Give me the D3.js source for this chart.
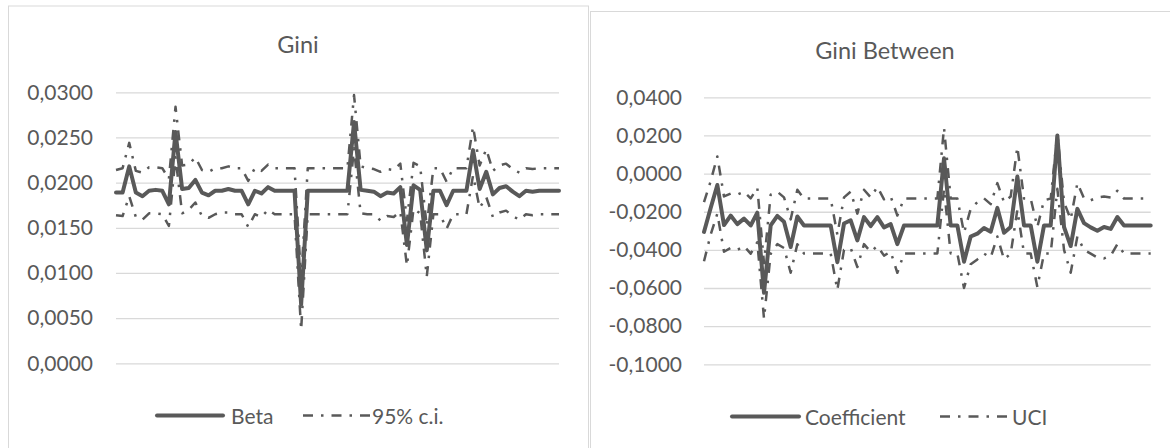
<!DOCTYPE html>
<html>
<head>
<meta charset="utf-8">
<script src="https://cdn.jsdelivr.net/npm/d3@7"></script>
<style>
  html, body { margin: 0; padding: 0; background: #ffffff; }
  svg { display: block; }
  text { font-family: Lato, "Open Sans", sans-serif; fill: #595959; }
</style>
</head>
<body>
<svg id="chart" width="1170" height="448"></svg>
<script>
// ---------------- DATA ----------------
const categories = [1,2,3,4,5,6,7,8,9,10,11,12,13,14,15,16,17,18,19,20,21,22,23,24,25,26,27,28,29,30,31,32,33,34,
  35,36,37,38,39,40,41,42,43,44,45,46,47,48,49,50,51,52,53,54,55,56,57,58,59,60,61,62,63,64,65,66,67,68];

// Left chart: "Gini"
const giniBeta = [0.0189,0.0189,0.0218,0.0189,0.0185,0.0191,0.0192,0.0191,0.0176,0.0256,
  0.0193,0.0194,0.0203,0.0189,0.0186,0.0191,0.0191,0.0193,0.0191,0.0191,
  0.0176,0.0191,0.0188,0.0195,0.0191,0.0191,0.0191,0.0191,0.0065,0.0191,
  0.0191,0.0191,0.0191,0.0191,0.0191,0.0191,0.0267,0.0192,0.0191,0.0190,
  0.0185,0.0189,0.0188,0.0195,0.0131,0.0197,0.0192,0.0125,0.0191,0.0191,
  0.0175,0.0191,0.0191,0.0191,0.0236,0.0193,0.0212,0.0187,0.0194,0.0196,
  0.0190,0.0185,0.0191,0.0190,0.0191,0.0191,0.0191,0.0191];
const giniUpper = [0.0214,0.0216,0.0244,0.0213,0.0211,0.0217,0.0217,0.0216,0.0204,0.0284,
  0.0219,0.0220,0.0228,0.0214,0.0212,0.0216,0.0216,0.0218,0.0216,0.0216,
  0.0202,0.0216,0.0213,0.0220,0.0216,0.0216,0.0216,0.0216,0.0093,0.0216,
  0.0216,0.0216,0.0216,0.0216,0.0216,0.0216,0.0297,0.0218,0.0216,0.0215,
  0.0212,0.0215,0.0214,0.0221,0.0158,0.0222,0.0218,0.0152,0.0216,0.0216,
  0.0201,0.0216,0.0216,0.0216,0.0262,0.0219,0.0237,0.0213,0.0219,0.0221,
  0.0215,0.0211,0.0216,0.0215,0.0216,0.0216,0.0216,0.0216];
const giniLower = [0.0164,0.0163,0.0185,0.0162,0.0159,0.0166,0.0166,0.0165,0.0152,0.0228,
  0.0166,0.0170,0.0178,0.0163,0.0161,0.0165,0.0167,0.0167,0.0165,0.0165,
  0.0151,0.0165,0.0162,0.0170,0.0165,0.0165,0.0165,0.0165,0.0037,0.0165,
  0.0165,0.0165,0.0165,0.0165,0.0165,0.0165,0.0238,0.0166,0.0165,0.0165,
  0.0158,0.0163,0.0162,0.0168,0.0108,0.0171,0.0166,0.0096,0.0165,0.0165,
  0.0149,0.0165,0.0165,0.0165,0.0208,0.0172,0.0184,0.0162,0.0167,0.0169,
  0.0163,0.0159,0.0165,0.0164,0.0165,0.0165,0.0165,0.0165];
const giniTicks = [0, 0.005, 0.01, 0.015, 0.02, 0.025, 0.03];

// Right chart: "Gini Between"
const betweenCoef = [-0.0306,-0.0180,-0.0060,-0.0270,-0.0220,-0.0265,-0.0236,-0.0272,-0.0205,-0.0625,
  -0.0272,-0.0222,-0.0252,-0.0385,-0.0225,-0.0272,-0.0272,-0.0272,-0.0272,-0.0272,
  -0.0465,-0.0262,-0.0245,-0.0350,-0.0228,-0.0275,-0.0228,-0.0282,-0.0265,-0.0370,
  -0.0272,-0.0272,-0.0272,-0.0272,-0.0272,-0.0272,0.0080,-0.0272,-0.0272,-0.0462,
  -0.0330,-0.0315,-0.0285,-0.0305,-0.0180,-0.0310,-0.0280,-0.0015,-0.0272,-0.0272,
  -0.0462,-0.0272,-0.0272,0.0200,-0.0280,-0.0380,-0.0185,-0.0260,-0.0282,-0.0300,
  -0.0280,-0.0290,-0.0228,-0.0272,-0.0272,-0.0272,-0.0272,-0.0272];
const betweenUCI = [-0.0150,-0.0040,0.0090,-0.0120,-0.0105,-0.0110,-0.0095,-0.0130,-0.0075,-0.0470,
  -0.0110,-0.0095,-0.0125,-0.0240,-0.0085,-0.0131,-0.0131,-0.0131,-0.0131,-0.0131,
  -0.0320,-0.0125,-0.0095,-0.0210,-0.0085,-0.0125,-0.0070,-0.0135,-0.0120,-0.0220,
  -0.0131,-0.0131,-0.0131,-0.0131,-0.0131,-0.0131,0.0240,-0.0131,-0.0131,-0.0310,
  -0.0185,-0.0150,-0.0130,-0.0160,-0.0050,-0.0150,-0.0120,0.0140,-0.0131,-0.0131,
  -0.0280,-0.0140,-0.0131,0.0210,-0.0150,-0.0240,-0.0050,-0.0130,-0.0140,-0.0125,
  -0.0120,-0.0125,-0.0090,-0.0131,-0.0131,-0.0131,-0.0131,-0.0131];
const betweenLCI = [-0.0460,-0.0320,-0.0210,-0.0410,-0.0390,-0.0400,-0.0380,-0.0420,-0.0360,-0.0760,
  -0.0420,-0.0370,-0.0390,-0.0520,-0.0370,-0.0419,-0.0419,-0.0419,-0.0419,-0.0419,
  -0.0610,-0.0400,-0.0390,-0.0490,-0.0370,-0.0410,-0.0380,-0.0430,-0.0410,-0.0520,
  -0.0419,-0.0419,-0.0419,-0.0419,-0.0419,-0.0419,-0.0080,-0.0419,-0.0419,-0.0600,
  -0.0475,-0.0450,-0.0420,-0.0440,-0.0330,-0.0450,-0.0420,-0.0190,-0.0419,-0.0419,
  -0.0595,-0.0419,-0.0419,-0.0080,-0.0400,-0.0520,-0.0330,-0.0400,-0.0420,-0.0440,
  -0.0445,-0.0430,-0.0370,-0.0419,-0.0419,-0.0419,-0.0419,-0.0419];
const betweenTicks = [-0.1, -0.08, -0.06, -0.04, -0.02, 0, 0.02, 0.04];

// ---------------- DRAWING ----------------
const svg = d3.select("#chart");
const INK = "#595959";
const GRID = "#d9d9d9";
const DASHDOT = "10,8,2.5,8";
const fmt = d3.formatLocale({decimal: ",", thousands: ".", grouping: [3], currency: ["", ""], minus: "-"}).format(".4f");

function drawChart(cfg) {
  const g = svg.append("g");
  // chart area border
  g.append("rect")
    .attr("x", cfg.box[0] + 0.5).attr("y", cfg.box[1] + 0.5)
    .attr("width", cfg.box[2]).attr("height", cfg.box[3])
    .attr("fill", "#fff").attr("stroke", GRID).attr("stroke-width", 1);

  g.append("text")
    .attr("x", cfg.titlePos[0]).attr("y", cfg.titlePos[1])
    .attr("text-anchor", "middle").attr("dominant-baseline", "central")
    .style("font-size", "23.5px")
    .text(cfg.title);

  const x = d3.scalePoint().domain(categories).range(cfg.xRange).padding(0);
  const y = d3.scaleLinear().domain(cfg.yDomain).range(cfg.yRange);
  const w = cfg.xRange[1] - cfg.xRange[0];

  const axis = g.append("g")
    .attr("transform", `translate(${cfg.xRange[0]},0)`)
    .call(d3.axisLeft(y).tickValues(cfg.ticks).tickSizeInner(-w).tickSizeOuter(0)
      .tickPadding(cfg.labelPad).tickFormat(fmt));
  axis.select(".domain").remove();
  axis.selectAll(".tick line").attr("stroke", GRID).attr("stroke-width", 1.3)
    .attr("transform", `translate(0,0)`);
  axis.selectAll(".tick text")
    .attr("x", -cfg.labelPad)
    .attr("fill", INK)
    .style("font-family", "Lato, 'Open Sans', sans-serif")
    .style("font-size", "21px");
  // gridlines start at plot left, extend to right
  axis.selectAll(".tick line").attr("x1", 0).attr("x2", w);

  const line = d3.line().x((d, i) => x(categories[i])).y(d => y(d));

  cfg.series.forEach(s => {
    g.append("path")
      .datum(s.values)
      .attr("d", line)
      .attr("fill", "none")
      .attr("stroke", INK)
      .attr("stroke-width", s.dash ? 2.5 : 4)
      .attr("stroke-dasharray", s.dash ? DASHDOT : null)
      .attr("stroke-linejoin", "round")
      .attr("stroke-linecap", s.dash ? "butt" : "round");
  });

  // legend
  cfg.legend.forEach(l => {
    g.append("line")
      .attr("x1", l.x1).attr("x2", l.x2).attr("y1", cfg.legendY).attr("y2", cfg.legendY)
      .attr("stroke", INK).attr("stroke-width", l.dash ? 2.5 : 4)
      .attr("stroke-dasharray", l.dash ? DASHDOT : null)
      .attr("stroke-linecap", l.dash ? "butt" : "round");
    g.append("text")
      .attr("x", l.tx).attr("y", cfg.legendY)
      .attr("dominant-baseline", "central")
      .style("font-size", "21px")
      .text(l.label);
  });
}

drawChart({
  box: [8, 5.5, 580, 460],
  title: "Gini",
  titlePos: [298, 44],
  xRange: [116, 559],
  yDomain: [0, 0.03],
  yRange: [363.3, 92.3],
  ticks: giniTicks,
  labelPad: 23,
  series: [
    {values: giniUpper, dash: true},
    {values: giniLower, dash: true},
    {values: giniBeta, dash: false}
  ],
  legendY: 415.5,
  legend: [
    {x1: 157, x2: 223, tx: 231, label: "Beta", dash: false},
    {x1: 303, x2: 370, tx: 372, label: "95% c.i.", dash: true}
  ]
});

drawChart({
  box: [590, 11, 600, 460],
  title: "Gini Between",
  titlePos: [885, 50],
  xRange: [704, 1150.7],
  yDomain: [-0.1, 0.04],
  yRange: [364.3, 97.3],
  ticks: betweenTicks,
  labelPad: 22,
  series: [
    {values: betweenUCI, dash: true},
    {values: betweenLCI, dash: true},
    {values: betweenCoef, dash: false}
  ],
  legendY: 416.5,
  legend: [
    {x1: 732, x2: 799, tx: 805, label: "Coefficient", dash: false},
    {x1: 940, x2: 1010, tx: 1012, label: "UCI", dash: true}
  ]
});
</script>
</body>
</html>
